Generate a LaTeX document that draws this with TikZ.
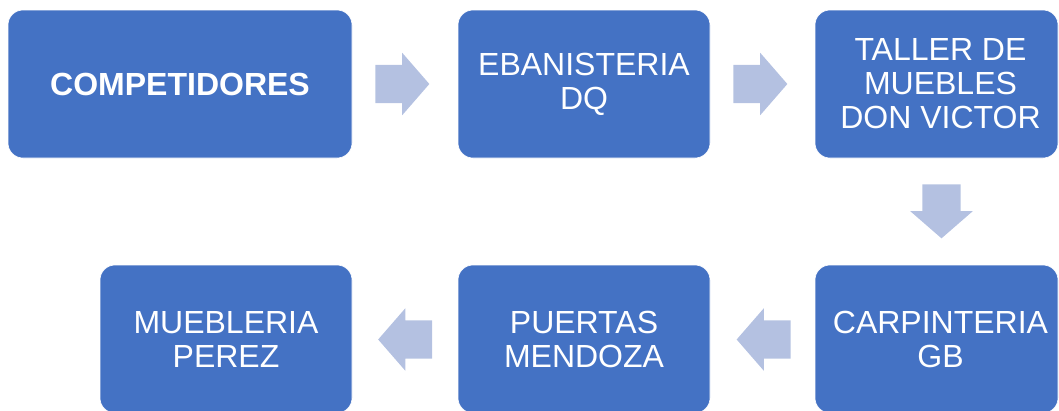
\documentclass[tikz,border=0pt]{standalone}
\usepackage{fontspec}
\setmainfont{Liberation Sans}
\usetikzlibrary{shapes, arrows, positioning, calc}
\definecolor{boxblue}{HTML}{4472C4}
\definecolor{arrowblue}{HTML}{B4C1E1}

\begin{document}
\begin{tikzpicture}[x=1pt, y=-1pt,
	box/.style={rectangle, rounded corners=15pt, fill=boxblue, draw=white, line width=0.6pt, text=white, align=center, minimum height=148pt, inner sep=0pt, font=\fontsize{32}{34}\selectfont},
	blockarrow/.style={single arrow, fill=arrowblue, draw=none, inner xsep=0pt, inner ysep=19pt, minimum height=54pt, single arrow head extend=12pt, single arrow tip angle=98}]
	\useasboundingbox (0,0) rectangle (1059,410);
	\clip (0,0) rectangle (1059,410);
	\node[box, minimum width=344pt, font=\fontsize{32}{34}\selectfont\bfseries] (comp) at (180,84) {COMPETIDORES};
	\node[box, minimum width=252pt] (ebanisteria) at (584,84) {EBANISTERIA\\DQ};
	\node[box, minimum width=243pt] (taller) at (936.5,84) {\hspace{8pt}TALLER DE\\\hspace{8pt}MUEBLES\\\hspace{8pt}DON VICTOR};
	\node[box, minimum width=243pt] (carpinteria) at (936.5,339) {\hspace{8pt}CARPINTERIA\\\hspace{8pt}GB};
	\node[box, minimum width=252pt] (puertas) at (584,339) {PUERTAS\\MENDOZA};
	\node[box, minimum width=252pt] (muebleria) at (226,339) {MUEBLERIA\\PEREZ};
	% block arrows between the boxes
	\node[blockarrow] (a1) at (394,84) {};
	\node[blockarrow] (a2) at (752,84) {};
	\node[blockarrow, rotate=-90] (a3) at (941.5,203) {};
	\node[blockarrow, rotate=180] (a4) at (772,339.5) {};
	\node[blockarrow, rotate=180] (a5) at (413.5,339.5) {};
\end{tikzpicture}
\end{document}
